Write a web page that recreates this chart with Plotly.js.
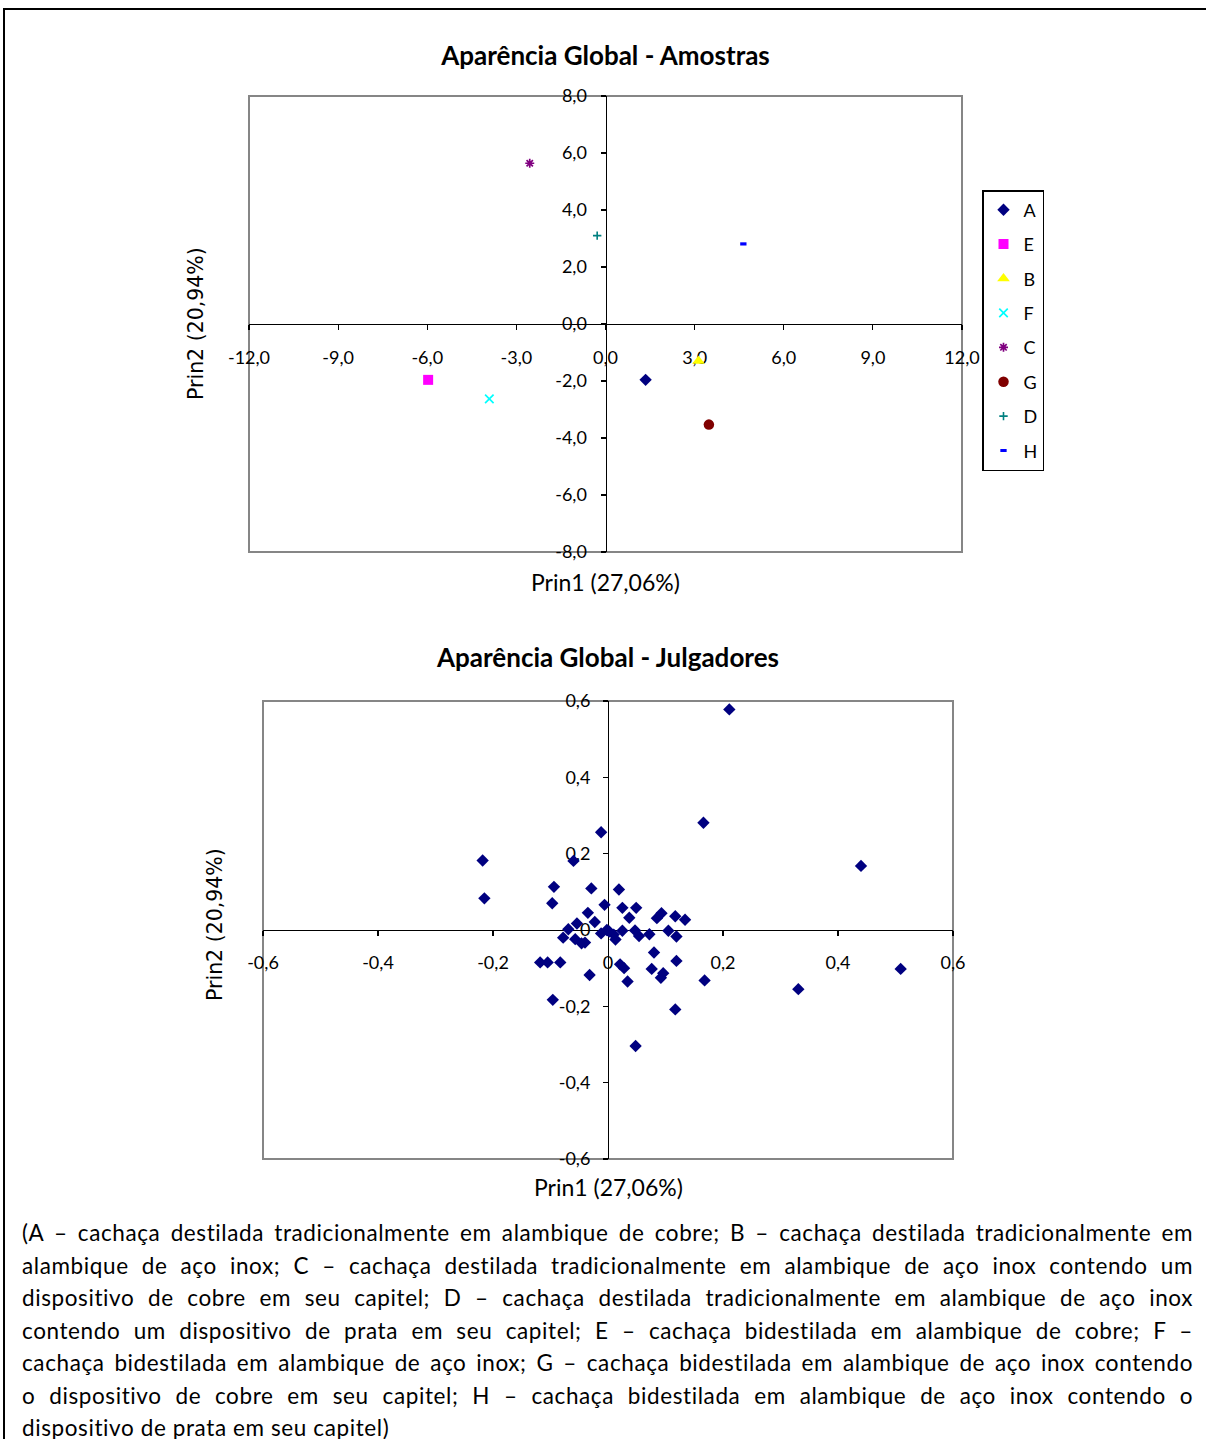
<!DOCTYPE html>
<html lang="pt">
<head>
<meta charset="utf-8">
<script src="https://cdn.plot.ly/plotly-3.0.1.min.js"></script>
<style>
  html, body { margin: 0; padding: 0; background: #fff; }
  body { width: 1206px; height: 1439px; overflow: hidden; position: relative; font-family: Lato, "Open Sans", sans-serif; }
  #frame { position: absolute; left: 3px; top: 8px; width: 1240px; height: 1500px; border: 2px solid #000; box-sizing: border-box; }
  #amostras { position: absolute; left: 0; top: 0; width: 1206px; height: 610px; }
  #julgadores { position: absolute; left: 0; top: 610px; width: 1206px; height: 600px; }
  #legenda { position: absolute; left: 22px; top: 1217px; width: 1171px; font-size: 22.5px; letter-spacing: 0.6px; line-height: 32.5px; color: #000; }
  #legenda div { text-align: justify; text-align-last: justify; white-space: nowrap; }
  #legenda div.last { text-align-last: left; }
</style>
</head>
<body>
<div id="frame"></div>
<div id="amostras"></div>
<div id="julgadores"></div>
<div id="legenda">
  <div>(A – cachaça destilada tradicionalmente em alambique de cobre; B – cachaça destilada tradicionalmente em</div>
  <div>alambique de aço inox; C – cachaça destilada tradicionalmente em alambique de aço inox contendo um</div>
  <div>dispositivo de cobre em seu capitel; D – cachaça destilada tradicionalmente em alambique de aço inox</div>
  <div>contendo um dispositivo de prata em seu capitel; E – cachaça bidestilada em alambique de cobre; F –</div>
  <div>cachaça bidestilada em alambique de aço inox; G – cachaça bidestilada em alambique de aço inox contendo</div>
  <div>o dispositivo de cobre em seu capitel; H – cachaça bidestilada em alambique de aço inox contendo o</div>
  <div class="last">dispositivo de prata em seu capitel)</div>
</div>
<script>
// ---- Amostras (sample scores on the first two principal components) ----
const sampleNames = ['A', 'E', 'B', 'F', 'C', 'G', 'D', 'H'];
const samplePrin1 = [1.35, -5.97, 3.13, -3.91, -2.55, 3.48, -0.28, 4.64];
const samplePrin2 = [-1.96, -1.96, -1.30, -2.63, 5.64, -3.53, 3.10, 2.81];

const sampleXTicks = [-12, -9, -6, -3, 0, 3, 6, 9, 12];
const sampleXLabels = ['-12,0', '-9,0', '-6,0', '-3,0', '0,0', '3,0', '6,0', '9,0', '12,0'];
const sampleYTicks = [-8, -6, -4, -2, 0, 2, 4, 6, 8];
const sampleYLabels = ['-8,0', '-6,0', '-4,0', '-2,0', '0,0', '2,0', '4,0', '6,0', '8,0'];

// ---- Julgadores (judge loadings) ----
const judgePrin1 = [
  0.211, 0.166, 0.440, -0.012, -0.218, -0.060, -0.215, -0.094, -0.097, -0.029,
  0.019, -0.006, -0.035, 0.025, 0.049, 0.037, 0.085, 0.093, 0.117, 0.134,
  -0.054, -0.023, -0.069, -0.078, -0.057, -0.046, -0.040,
  -0.012, -0.002, 0.002, 0.010, 0.013, 0.025, 0.047, 0.054, 0.072, 0.105, 0.119,
  -0.118, -0.105, -0.083, -0.032, -0.096, 0.021, 0.028, 0.034, 0.080, 0.119,
  0.076, 0.092, 0.096, 0.117, 0.048, 0.168, 0.331, 0.509
];
const judgePrin2 = [
  0.578, 0.281, 0.168, 0.256, 0.182, 0.181, 0.083, 0.113, 0.070, 0.109,
  0.106, 0.066, 0.045, 0.058, 0.058, 0.032, 0.031, 0.044, 0.036, 0.027,
  0.017, 0.021, 0.002, -0.020, -0.024, -0.035, -0.033,
  -0.009, 0.000, -0.004, -0.012, -0.025, -0.002, -0.001, -0.016, -0.011, -0.002, -0.017,
  -0.085, -0.085, -0.085, -0.118, -0.183, -0.090, -0.100, -0.135, -0.059, -0.081,
  -0.102, -0.125, -0.113, -0.208, -0.304, -0.132, -0.155, -0.102
];

const judgeTicks = [-0.6, -0.4, -0.2, 0, 0.2, 0.4, 0.6];
const judgeLabels = ['-0,6', '-0,4', '-0,2', '0', '0,2', '0,4', '0,6'];

const xTitle = 'Prin1 (27,06%)';
const yTitle = 'Prin2 (20,94%)';

// Marker look for each sample group
const sampleStyle = {
  A: { symbol: 'diamond', color: '#000080', size: 9.5 },
  E: { symbol: 'square', color: '#FF00FF', size: 10 },
  B: { symbol: 'triangle-up', color: '#FFFF00', size: 11 },
  F: { symbol: 'x-thin-open', color: '#00FFFF', size: 8.5, width: 1.7 },
  C: { symbol: 'asterisk-open', color: '#800080', size: 7.5, width: 1.7 },
  G: { symbol: 'circle', color: '#800000', size: 10.5 },
  D: { symbol: 'cross-thin-open', color: '#008080', size: 6, width: 1.6 },
  H: { symbol: 'line-ew-open', color: '#0000FF', size: 4.5, width: 3.2 }
};

const FONT = 'Lato, "Open Sans", sans-serif';

// Axis that crosses the other one at zero, drawn under the markers
function crossAxis(tickvals, ticktext, range, standoff) {
  return {
    range: range,
    anchor: 'free',
    position: 0.5,
    layer: 'below traces',
    showgrid: false,
    zeroline: false,
    showline: true,
    linecolor: '#000',
    linewidth: 1.3,
    ticks: 'outside',
    ticklen: 5,
    tickwidth: 1.2,
    tickcolor: '#000',
    tickvals: tickvals,
    ticktext: ticktext,
    ticklabelstandoff: standoff,
    tickfont: { family: FONT, size: 18, color: '#000' },
    automargin: false,
    fixedrange: true
  };
}

function frameShape() {
  return {
    type: 'rect', xref: 'paper', yref: 'paper', x0: 0, x1: 1, y0: 0, y1: 1,
    line: { color: '#868686', width: 2 }, layer: 'below'
  };
}

function axisTitles(xTitleY, yTitleX, yTitleY) {
  return [
    {
      text: xTitle, xref: 'paper', yref: 'paper', x: 0.5, y: xTitleY,
      xanchor: 'center', yanchor: 'middle', showarrow: false,
      font: { family: FONT, size: 23, color: '#000' }
    },
    {
      text: yTitle, xref: 'paper', yref: 'paper', x: yTitleX, y: yTitleY,
      xanchor: 'center', yanchor: 'middle', showarrow: false, textangle: -90,
      font: { family: '"DejaVu Sans", Verdana, sans-serif', size: 20.5, color: '#000' }
    }
  ];
}

// Top chart: one trace per sample so each gets its own legend entry
const sampleTraces = sampleNames.map((name, i) => {
  const st = sampleStyle[name];
  return {
    type: 'scatter', mode: 'markers', name: name, legendgroup: name,
    x: [samplePrin1[i]], y: [samplePrin2[i]],
    marker: {
      symbol: st.symbol, size: st.size, color: st.color,
      line: { color: st.color, width: st.width || 0 }
    },
    cliponaxis: false
  };
});

const topLayout = {
  width: 1206, height: 610,
  margin: { l: 249, r: 244, t: 96, b: 58 },
  paper_bgcolor: 'rgba(0,0,0,0)', plot_bgcolor: 'rgba(0,0,0,0)',
  title: {
    text: '<b>Aparência Global - Amostras</b>',
    xref: 'paper', x: 0.5, xanchor: 'center',
    yref: 'container', y: 1 - 56 / 610, yanchor: 'middle',
    font: { family: FONT, size: 26, color: '#000' }
  },
  xaxis: crossAxis(sampleXTicks, sampleXLabels, [-12, 12], 12),
  yaxis: crossAxis(sampleYTicks, sampleYLabels, [-8, 8], 10),
  showlegend: true,
  legend: {
    x: (982 - 249) / 713, xanchor: 'left',
    y: (552 - 190) / 456, yanchor: 'top',
    bgcolor: '#fff', bordercolor: '#000', borderwidth: 1.5,
    font: { family: FONT, size: 18, color: '#000' },
    traceorder: 'grouped', tracegroupgap: 8, itemwidth: 30
  },
  shapes: [frameShape()],
  annotations: axisTitles(-30 / 456, (196 - 249) / 713, 0.5),
  separators: ',.'
};

// Bottom chart: all judges in a single series
const judgeTrace = {
  type: 'scatter', mode: 'markers', name: 'Julgadores',
  x: judgePrin1, y: judgePrin2,
  marker: { symbol: 'diamond', size: 9.5, color: '#000080' },
  cliponaxis: false, showlegend: false
};

const bottomLayout = {
  width: 1206, height: 600,
  margin: { l: 263, r: 253, t: 91, b: 51 },
  paper_bgcolor: 'rgba(0,0,0,0)', plot_bgcolor: 'rgba(0,0,0,0)',
  title: {
    text: '<b>Aparência Global - Julgadores</b>',
    xref: 'paper', x: 0.5, xanchor: 'center',
    yref: 'container', y: 1 - 48 / 600, yanchor: 'middle',
    font: { family: FONT, size: 26, color: '#000' }
  },
  xaxis: crossAxis(judgeTicks, judgeLabels, [-0.6, 0.6], 11),
  yaxis: crossAxis(judgeTicks, judgeLabels, [-0.6, 0.6], 9),
  showlegend: false,
  shapes: [frameShape()],
  annotations: axisTitles(-28 / 458, (215 - 263) / 690, (1159 - 925) / 458),
  separators: ',.'
};

const config = { staticPlot: true, displayModeBar: false };
Plotly.newPlot('amostras', sampleTraces, topLayout, config);
Plotly.newPlot('julgadores', [judgeTrace], bottomLayout, config);
</script>
</body>
</html>
